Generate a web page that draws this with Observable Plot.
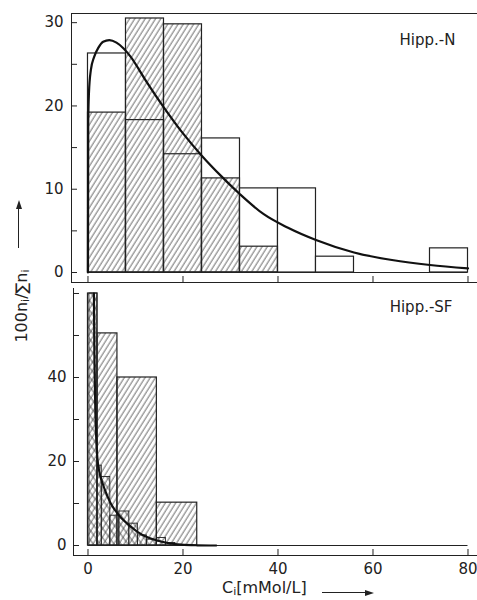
<!DOCTYPE html>
<html><head><meta charset="utf-8">
<script src="https://cdn.jsdelivr.net/npm/d3@7"></script>
<script src="https://cdn.jsdelivr.net/npm/@observablehq/plot@0.6"></script>
<style>
body{margin:0;background:#fff;}
#wrap{position:relative;width:477px;height:600px;font-family:"DejaVu Sans",sans-serif;color:#222;overflow:hidden;}
#top,#bot{position:absolute;left:0;}
#top{top:0px} #bot{top:284px}
.lbl{position:absolute;white-space:nowrap;font-size:16px;line-height:1;}
.lbl sub{font-size:11px;vertical-align:-2px;line-height:0;}
</style></head><body>
<svg width="0" height="0" style="position:absolute">
<defs>
<pattern id="hatch" patternUnits="userSpaceOnUse" width="4.4" height="10" patternTransform="rotate(32)">
<line x1="1" y1="-1" x2="1" y2="11" stroke="#333" stroke-width="0.75"/>
</pattern>
<pattern id="back" patternUnits="userSpaceOnUse" width="5.6" height="10" patternTransform="rotate(-36)">
<line x1="1" y1="-1" x2="1" y2="11" stroke="#333" stroke-width="0.75"/>
</pattern>
</defs></svg>
<div id="wrap">
<div id="top"></div>
<div id="bot"></div>
<div class="lbl" id="ylab" style="left:22px;top:306px;transform:translate(-50%,-50%) rotate(-90deg);">100n<sub>i</sub>/∑n<sub>i</sub></div>
<div style="position:absolute;left:18px;top:207px;width:1px;height:41px;background:#222"></div>
<div style="position:absolute;left:15.5px;top:200px;width:0;height:0;border-left:3px solid transparent;border-right:3px solid transparent;border-bottom:9px solid #222"></div>
<div class="lbl" id="xlab" style="left:222px;top:580px;">C<sub>i</sub>[mMol/L]</div>
<div style="position:absolute;left:322px;top:592px;width:44px;height:1px;background:#222"></div>
<div style="position:absolute;left:365px;top:589.5px;width:0;height:0;border-top:3px solid transparent;border-bottom:3px solid transparent;border-left:9px solid #222"></div>
</div>
<script>
// ---------- Hipp.-N (top panel) ----------
const nEdges   = [0, 8, 16, 24, 32, 40, 48, 56, 64, 72, 80];
const nOpen    = [26.3, 18.3, 14.2, 16.1, 10.1, 10.1, 1.9, 0, 0, 2.9];
const nHatched = [19.2, 30.5, 29.8, 11.3, 3.1, 0, 0, 0, 0, 0];
const nCurveX  = [0, 0.05, 0.2, 0.6, 1.3, 2.2, 3.2, 4.5, 6, 7.5, 9, 12, 16, 20, 24, 28, 32, 37, 42, 48, 56, 64, 72, 80];
const nCurveY  = [0, 18, 21.5, 24.3, 25.9, 27, 27.7, 27.9, 27.6, 26.9, 25.9, 23.2, 19.8, 16.7, 14.0, 11.6, 9.4, 7.0, 5.4, 3.9, 2.4, 1.5, 0.9, 0.5];
const nYTicks  = [0, 5, 10, 15, 20, 25, 30];
const nYLabels = [0, 10, 20, 30];

// ---------- Hipp.-SF (bottom panel) ----------
const sfEdges     = [0, 2, 6.2, 14.5, 23];
const sfHatched   = [60, 50.5, 40, 10.2];
const sfFineEdges = [0.3, 2.0, 2.9, 4.7, 6.6, 8.7, 10.5, 12.4, 14.5, 16.4, 18.4];
const sfFine      = [60, 19, 16.3, 7.1, 8.1, 5.2, 2.4, 1.4, 1.8, 0.6];
const sfCurveX    = [1.25, 1.35, 1.5, 1.7, 2.0, 2.5, 3.1, 4, 4.8, 5.7, 6.6, 7.6, 8.7, 10.5, 12.4, 14.5, 16.8, 19.6, 23, 27];
const sfCurveY    = [60, 46, 35, 26.5, 20.5, 17, 14.7, 12, 10, 8.4, 7.1, 5.9, 4.8, 3.2, 2.0, 1.2, 0.6, 0.2, 0.05, 0];
const sfYTicks    = [0, 10, 20, 30, 40, 50, 60];
const sfYLabels   = [0, 20, 40];

const xTicks = [0, 20, 40, 60, 80];
const baseX  = [0, 80];

const ink = "#222";
const font = {fontFamily: "DejaVu Sans, sans-serif", fontSize: "15px", color: ink, background: "transparent", overflow: "visible"};

const nBins = nOpen.map((v, i) => ({x1: nEdges[i], x2: nEdges[i + 1], open: v, hatched: nHatched[i]}));
const nCurve = nCurveX.map((x, i) => ({x, y: nCurveY[i]}));
const sfBins = sfHatched.map((v, i) => ({x1: sfEdges[i], x2: sfEdges[i + 1], y: v}));
const sfFineBins = sfFine.map((v, i) => ({x1: sfFineEdges[i], x2: sfFineEdges[i + 1], y: v}));
const sfCurve = sfCurveX.map((x, i) => ({x, y: sfCurveY[i]}));

const topPlot = Plot.plot({
  width: 477, height: 284,
  marginLeft: 71, marginRight: 0, marginTop: 13, marginBottom: 2,
  style: font,
  x: {domain: [-3.47, 82.0]},
  y: {domain: [-1.2, 31.1]},
  marks: [
    Plot.rect(nBins.filter(d => d.open > 0), {x1: "x1", x2: "x2", y1: 0, y2: "open", fill: "white", stroke: ink, strokeWidth: 1.2}),
    Plot.rect(nBins.filter(d => d.hatched > 0), {x1: "x1", x2: "x2", y1: 0, y2: "hatched", fill: "url(#hatch)", stroke: ink, strokeWidth: 1.2}),
    Plot.ruleY([0], {x1: baseX[0], x2: baseX[1], stroke: ink, strokeWidth: 1.2}),
    Plot.line(nCurve, {x: "x", y: "y", curve: "monotone-x", stroke: "#111", strokeWidth: 2.2}),
    Plot.frame({anchor: "top", stroke: ink, strokeWidth: 1}),
    Plot.frame({anchor: "left", stroke: ink, strokeWidth: 1}),
    Plot.frame({anchor: "bottom", stroke: ink, strokeWidth: 1}),
    Plot.axisY({ticks: nYLabels, tickSize: 0, tickPadding: 8, label: null, fontSize: 15}),
    Plot.axisY({ticks: nYTicks, tickSize: 6, dx: 6, tickFormat: () => "", label: null}),
    Plot.axisX({ticks: xTicks, tickSize: 6, dy: -6, tickFormat: () => "", label: null}),
    Plot.text(["Hipp.-N"], {frameAnchor: "top-right", textAnchor: "end", lineAnchor: "middle", dx: -22, dy: 27, fontSize: 15, fill: ink})
  ]
});
document.getElementById("top").appendChild(topPlot);

const botPlot = Plot.plot({
  width: 477, height: 316,
  marginLeft: 73, marginRight: 0, marginTop: 4, marginBottom: 45,
  style: font,
  x: {domain: [-3.05, 82.0]},
  y: {domain: [-2.38, 61.19]},
  marks: [
    Plot.rect(sfBins, {x1: "x1", x2: "x2", y1: 0, y2: "y", fill: "url(#hatch)", stroke: ink, strokeWidth: 1.2}),
    Plot.rect(sfFineBins, {x1: "x1", x2: "x2", y1: 0, y2: "y", fill: "url(#back)", stroke: ink, strokeWidth: 0.9}),
    Plot.ruleY([0], {x1: baseX[0], x2: baseX[1], stroke: ink, strokeWidth: 1.2}),
    Plot.line(sfCurve, {x: "x", y: "y", curve: "monotone-x", stroke: "#111", strokeWidth: 2.2}),
    Plot.frame({anchor: "left", stroke: ink, strokeWidth: 1}),
    Plot.frame({anchor: "bottom", stroke: ink, strokeWidth: 1}),
    Plot.axisY({ticks: sfYLabels, tickSize: 0, tickPadding: 7, label: null, fontSize: 15}),
    Plot.axisY({ticks: sfYTicks, tickSize: 6, dx: 6, tickFormat: () => "", label: null}),
    Plot.axisX({ticks: xTicks, tickSize: 0, tickPadding: 8, label: null, fontSize: 15}),
    Plot.axisX({ticks: xTicks, tickSize: 6, dy: -6, tickFormat: () => "", label: null}),
    Plot.text(["Hipp.-SF"], {frameAnchor: "top-right", textAnchor: "end", lineAnchor: "middle", dx: -25, dy: 19, fontSize: 15, fill: ink})
  ]
});
document.getElementById("bot").appendChild(botPlot);
</script>
</body></html>
